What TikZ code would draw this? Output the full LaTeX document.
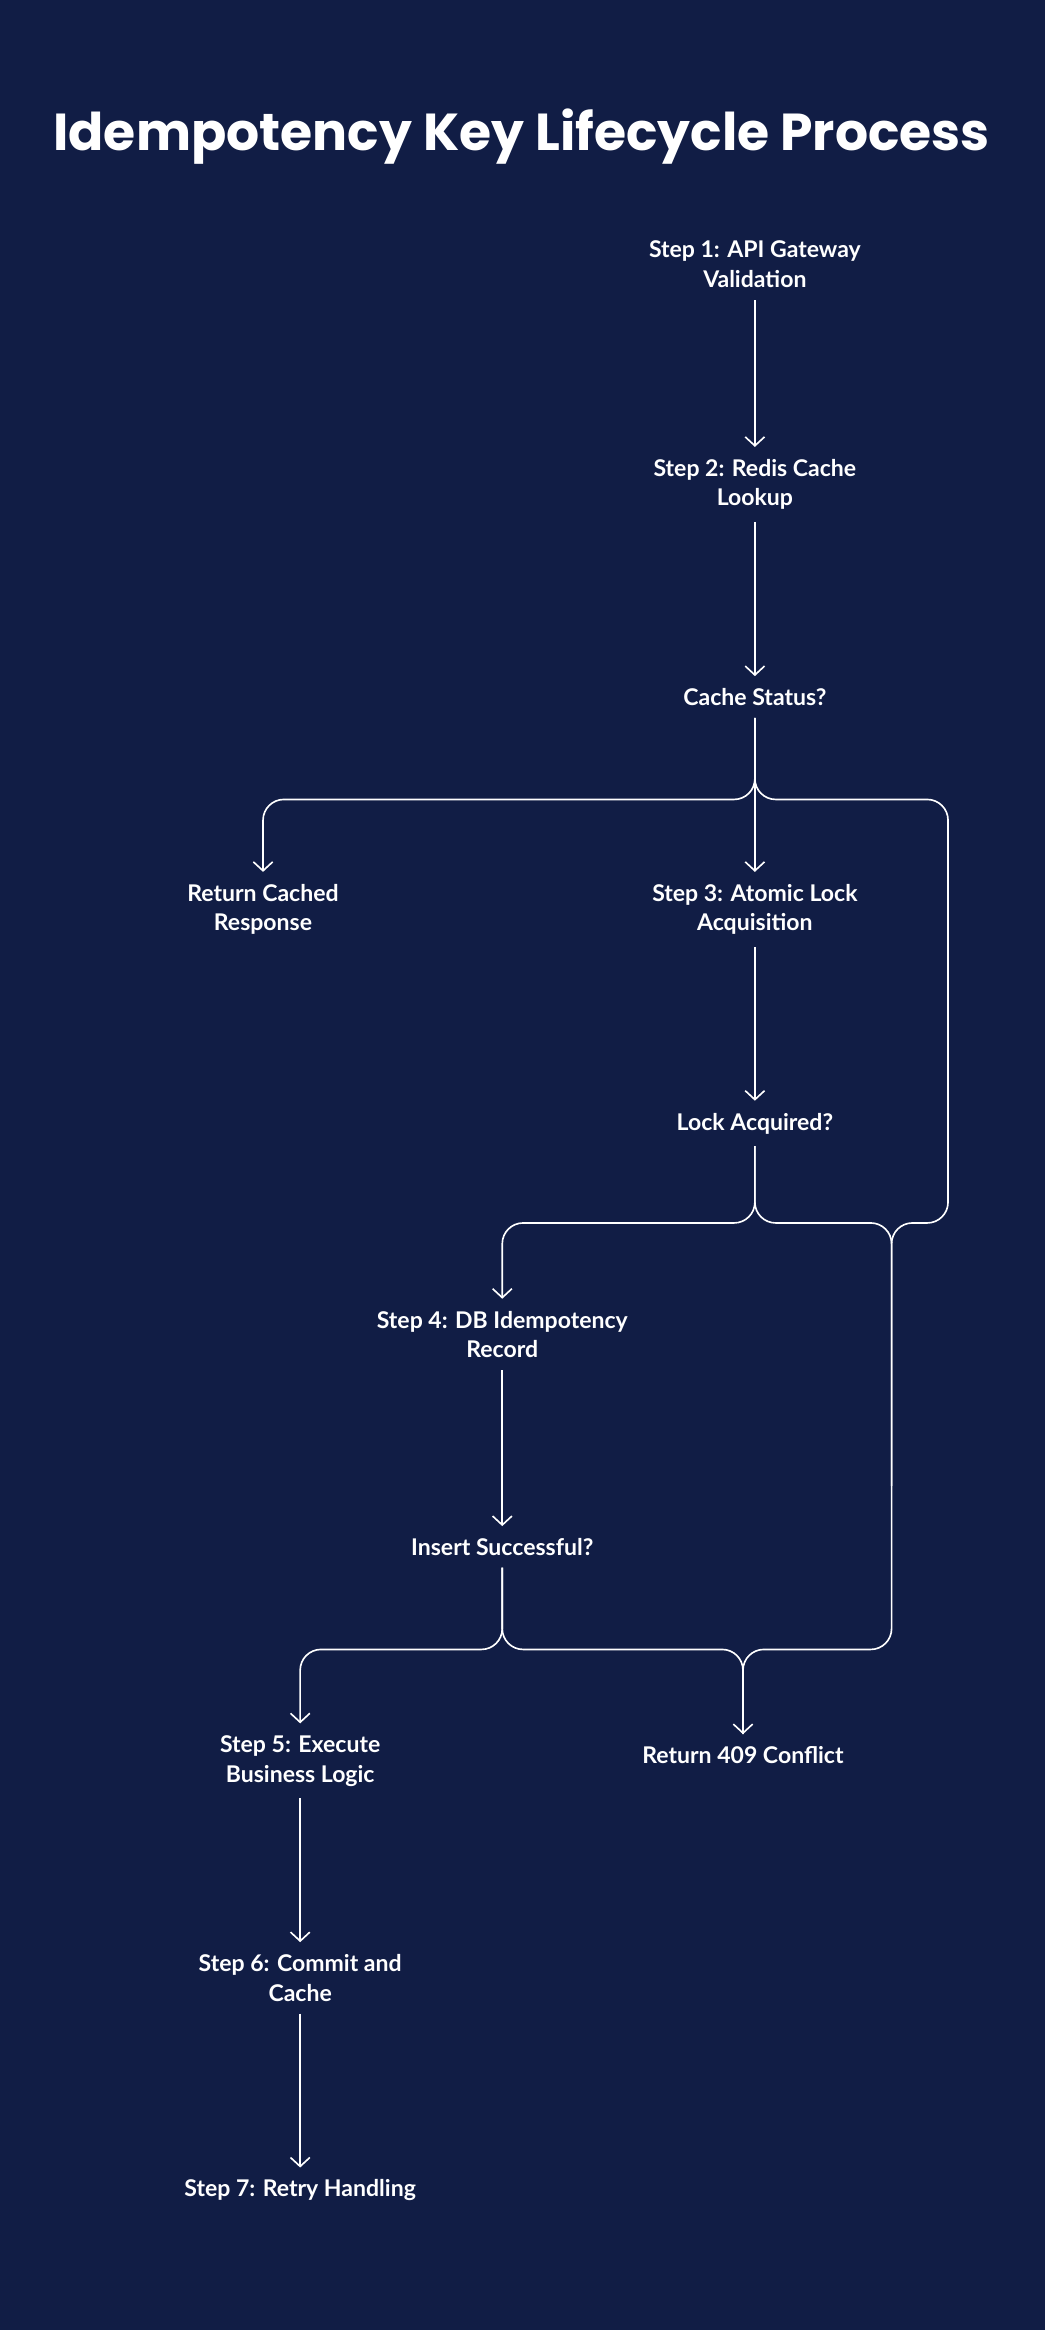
\documentclass[tikz,border=0pt]{standalone}
\usepackage{fontspec}
\setmainfont{Lato}
\newfontfamily\titlefont{Poppins}
\usetikzlibrary{arrows.meta}
\definecolor{bg}{HTML}{111D45}
\begin{document}
\begin{tikzpicture}[x=1pt,y=1pt,
  lbl/.style={text=white,font=\bfseries\fontsize{15.5}{20}\selectfont,align=center,inner xsep=2pt,inner ysep=8pt},
  arr/.style={draw=white,line width=1.1pt,rounded corners=14pt,-{Straight Barb[length=6pt,width=13pt,line width=1.1pt]}},
  ln/.style={draw=white,line width=1.1pt,rounded corners=14pt}]
\fill[bg] (0,0) rectangle (703,-1568);
\node[text=white,font=\titlefont\bfseries\fontsize{35}{42}\selectfont] (title) at (351,-92) {Idempotency Key Lifecycle Process};
\node[lbl] (s1) at (508,-178) {Step 1: API Gateway\\Validation};
\node[lbl] (s2) at (508,-326) {Step 2: Redis Cache\\Lookup};
\node[lbl] (cs) at (508,-469) {Cache Status?};
\node[lbl] (rc) at (177,-612) {Return Cached\\Response};
\node[lbl] (s3) at (508,-612) {Step 3: Atomic Lock\\Acquisition};
\node[lbl] (la) at (508,-756) {Lock Acquired?};
\node[lbl] (s4) at (338,-898) {Step 4: DB Idempotency\\Record};
\node[lbl] (is) at (338,-1041) {Insert Successful?};
\node[lbl] (s5) at (202,-1185) {Step 5: Execute\\Business Logic};
\node[lbl] (rf) at (500,-1181) {Return 409 Conflict};
\node[lbl] (s6) at (202,-1331) {Step 6: Commit and\\Cache};
\node[lbl] (s7) at (202,-1474) {Step 7: Retry Handling};
\coordinate (c2) at (600,-823);
\coordinate (c3) at (600,-1110);
\coordinate (c4) at (600,-1000);
\draw[arr] (s1) -- (s2);
\draw[arr] (s2) -- (cs);
\draw[arr] (cs.south) -- (508,-538) -| (rc.north);
\draw[arr] (cs) -- (s3);
\draw[ln] (cs.south) -- (508,-538) -| (638,-823) -- (c2) -- (c3) -- (500,-1110) -- (rf.north);
\draw[arr] (s3) -- (la);
\draw[arr] (la.south) -- (508,-823) -| (s4.north);
\draw[ln] (la.south) -- (508,-823) -| (c4);
\draw[arr] (s4) -- (is);
\draw[arr] (is.south) -- (338,-1110) -| (s5.north);
\draw[arr] (is.south) -- (338,-1110) -| (rf.north);
\draw[arr] (s5) -- (s6);
\draw[arr] (s6) -- (s7);
\end{tikzpicture}
\end{document}
